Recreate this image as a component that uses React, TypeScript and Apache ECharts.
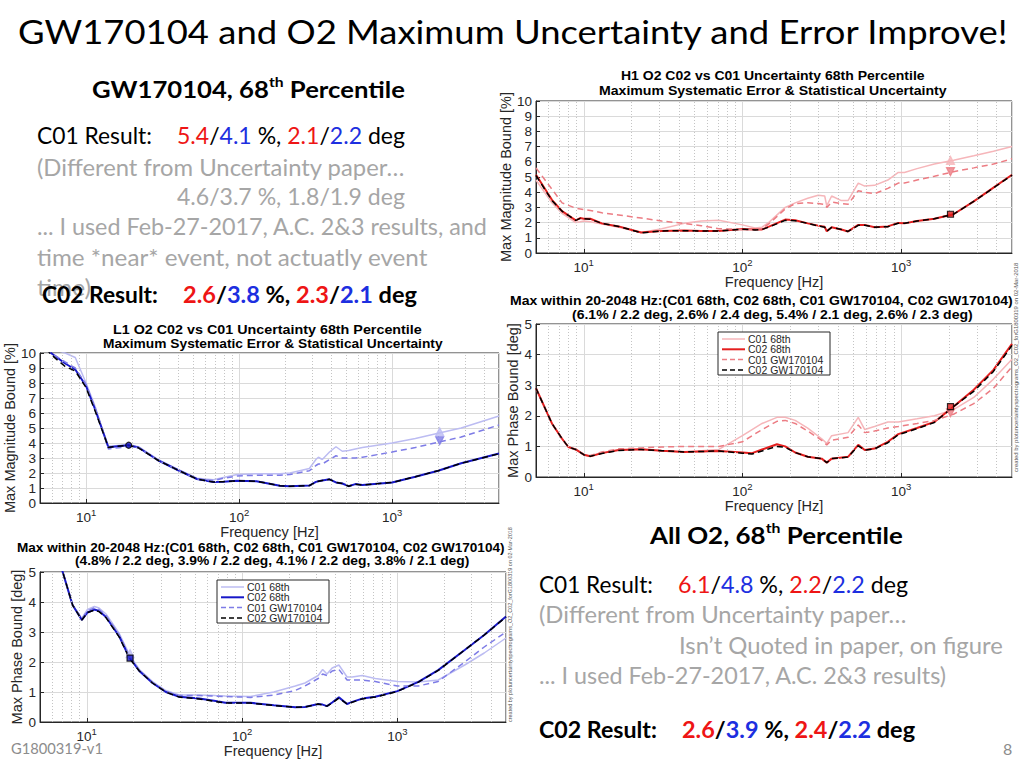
import React, { useEffect, useRef } from "react";
import * as echarts from "echarts";

const AX = "Liberation Sans";
const SL = "Lato";

// ---------------- data ----------------
const CURVE_NAMES = ["C01 68th", "C02 68th", "C01 GW170104", "C02 GW170104"];
const X_TICK_DECADES = [10, 100, 1000];

// H1 magnitude [%]
const h1MagFreq = [5, 6.3, 7.3, 8.9, 9.5, 10, 11, 13, 16.6, 23, 31, 43, 55, 71, 100, 120, 133, 148, 186, 215, 258, 300, 330, 340, 365, 420, 463, 537, 590, 680, 825, 960, 1050, 1260, 1620, 2140, 2870, 3820, 5000];
const h1MagC01_68 = [4.8, 3.3, 2.6, 2.0, 2.05, 2.1, 2.05, 1.9, 1.7, 1.35, 1.6, 1.95, 2.1, 2.15, 1.85, 1.65, 1.7, 2.05, 3.0, 3.3, 3.6, 3.8, 3.75, 3.1, 3.75, 3.45, 3.45, 4.6, 4.4, 4.45, 4.8, 5.3, 5.3, 5.55, 5.85, 6.1, 6.4, 6.7, 7.0];
const h1MagC02_68 = [5.15, 3.5, 2.75, 2.15, 2.3, 2.25, 2.25, 1.95, 1.75, 1.35, 1.45, 1.48, 1.45, 1.45, 1.58, 1.55, 1.55, 1.75, 2.2, 2.15, 1.95, 1.8, 1.72, 1.43, 1.7, 1.55, 1.42, 1.85, 1.85, 1.7, 1.75, 1.98, 1.95, 2.1, 2.25, 2.55, 3.4, 4.3, 5.15];
const h1MagC01_GW = [5.6, 4.2, 3.3, 2.95, 2.9, 2.85, 2.8, 2.65, 2.5, 2.3, 2.1, 1.95, 1.8, 1.6, 1.55, 1.55, 1.6, 1.95, 2.9, 3.25, 3.3, 3.25, 3.2, 3.0, 3.35, 3.25, 3.2, 4.1, 4.0, 3.9, 4.25, 4.6, 4.6, 4.8, 5.05, 5.35, 5.6, 5.85, 6.2];
const h1MagC02_GW = [5.1, 3.45, 2.75, 2.15, 2.28, 2.25, 2.22, 1.95, 1.75, 1.33, 1.45, 1.47, 1.45, 1.45, 1.56, 1.52, 1.55, 1.72, 2.15, 2.12, 1.95, 1.78, 1.7, 1.43, 1.68, 1.55, 1.42, 1.82, 1.83, 1.7, 1.73, 1.96, 1.95, 2.1, 2.25, 2.55, 3.4, 4.28, 5.12];
const h1MagMarkF = [2048, 2048, 2048];
const h1MagMarkV = [6.1, 5.35, 2.55];

// H1 phase [deg]
const h1PhFreq = [5, 6.3, 7.3, 8, 8.9, 10, 11, 13, 16.6, 23, 31, 43, 71, 100, 115, 133, 165, 186, 215, 258, 316, 340, 365, 463, 537, 590, 680, 825, 960, 1260, 1620, 2140, 2870, 3820, 5000];
const h1PhC01_68 = [2.9, 1.75, 1.25, 0.98, 0.9, 0.73, 0.68, 0.78, 0.88, 0.91, 0.86, 0.82, 0.9, 1.35, 1.55, 1.75, 1.95, 1.95, 1.85, 1.6, 1.25, 1.1, 1.35, 1.45, 1.95, 1.55, 1.65, 1.8, 1.8, 1.9, 2.0, 2.2, 2.6, 3.2, 3.85];
const h1PhC02_68 = [2.9, 1.75, 1.25, 0.98, 0.9, 0.73, 0.68, 0.78, 0.88, 0.91, 0.86, 0.82, 0.85, 0.8, 0.78, 0.9, 1.07, 1.0, 0.8, 0.66, 0.6, 0.47, 0.6, 0.66, 1.05, 0.88, 0.93, 1.15, 1.4, 1.6, 1.8, 2.3, 2.85, 3.5, 4.35];
const h1PhC01_GW = [2.9, 1.75, 1.25, 0.98, 0.9, 0.73, 0.7, 0.82, 0.92, 0.95, 0.98, 1.0, 1.0, 1.15, 1.35, 1.55, 1.82, 1.85, 1.75, 1.5, 1.2, 1.05, 1.2, 1.3, 1.7, 1.45, 1.5, 1.6, 1.65, 1.75, 1.85, 2.05, 2.4, 2.9, 3.6];
const h1PhC02_GW = [2.9, 1.75, 1.25, 0.98, 0.9, 0.73, 0.68, 0.77, 0.87, 0.9, 0.86, 0.82, 0.85, 0.78, 0.75, 0.85, 1.0, 0.97, 0.8, 0.66, 0.6, 0.47, 0.6, 0.65, 1.02, 0.88, 0.92, 1.12, 1.38, 1.58, 1.78, 2.3, 2.8, 3.45, 4.3];
const h1PhMarkF = [2048, 2048];
const h1PhMarkV = [2.1, 2.3];

// L1 magnitude [%]
const l1MagFreq = [5, 5.9, 7.3, 8.5, 10, 11.5, 12.7, 14, 15, 18.9, 22, 29.5, 39.7, 53, 68, 79, 97, 130, 185, 215, 288, 318, 330, 350, 390, 430, 473, 520, 575, 640, 1000, 1420, 2000, 2830, 5000];
const l1MagC01_68 = [10.8, 10.3, 10.0, 9.7, 8.0, 6.4, 5.0, 3.8, 3.8, 3.9, 3.75, 2.9, 2.25, 1.65, 1.55, 1.7, 1.9, 1.95, 1.95, 2.0, 2.3, 2.9, 3.05, 2.9, 3.4, 3.75, 3.45, 3.5, 3.6, 3.7, 4.0, 4.3, 4.65, 5.0, 5.8];
const l1MagC02_68 = [10.8, 10.0, 9.3, 8.9, 7.8, 6.2, 4.95, 3.7, 3.75, 3.85, 3.7, 2.85, 2.2, 1.6, 1.4, 1.42, 1.48, 1.45, 1.15, 1.12, 1.16, 1.41, 1.45, 1.5, 1.58, 1.37, 1.3, 1.12, 1.26, 1.2, 1.37, 1.75, 2.15, 2.65, 3.3];
const l1MagC01_GW = [10.8, 10.0, 9.4, 9.0, 7.9, 6.3, 5.0, 3.6, 3.65, 3.75, 3.7, 2.85, 2.2, 1.6, 1.5, 1.65, 1.8, 1.85, 1.85, 1.9, 2.15, 2.5, 2.6, 2.6, 2.9, 3.15, 3.0, 3.0, 3.0, 3.05, 3.4, 3.7, 4.05, 4.4, 5.2];
const l1MagC02_GW = [10.8, 9.9, 9.1, 8.8, 7.7, 6.1, 4.9, 3.7, 3.75, 3.85, 3.68, 2.85, 2.2, 1.6, 1.4, 1.42, 1.48, 1.45, 1.15, 1.12, 1.16, 1.41, 1.45, 1.5, 1.58, 1.37, 1.3, 1.12, 1.26, 1.2, 1.37, 1.75, 2.15, 2.65, 3.28];
const l1MagMarkF = [2048, 2048, 19];
const l1MagMarkV = [4.75, 4.15, 3.85];

// L1 phase [deg]
const l1PhFreq = [5, 7.0, 8.1, 9.3, 10.1, 11.2, 12, 13.3, 16.2, 18.8, 21.8, 26.5, 32.3, 39.4, 53, 67.6, 78, 113, 160, 220, 254, 309, 330, 352, 380, 420, 474, 512, 593, 720, 1000, 1365, 1830, 2710, 3620, 5000];
const l1PhC01_68 = [7.5, 5.0, 3.9, 3.45, 3.75, 3.85, 3.8, 3.6, 2.95, 2.25, 1.75, 1.35, 1.05, 0.9, 0.9, 0.88, 0.87, 0.85, 1.0, 1.2, 1.3, 1.55, 1.75, 1.6, 1.8, 1.9, 1.5, 1.5, 1.55, 1.45, 1.35, 1.33, 1.4, 1.9, 2.3, 2.8];
const l1PhC02_68 = [7.5, 5.0, 3.9, 3.4, 3.65, 3.75, 3.7, 3.5, 2.85, 2.15, 1.7, 1.3, 1.0, 0.84, 0.78, 0.7, 0.64, 0.64, 0.56, 0.49, 0.5, 0.6, 0.58, 0.53, 0.65, 0.82, 0.6, 0.67, 0.78, 0.84, 1.03, 1.34, 1.73, 2.4, 2.9, 3.52];
const l1PhC01_GW = [7.5, 5.0, 3.9, 3.45, 3.7, 3.8, 3.75, 3.55, 2.9, 2.2, 1.72, 1.32, 1.02, 0.88, 0.88, 0.86, 0.85, 0.82, 0.9, 1.05, 1.2, 1.45, 1.6, 1.55, 1.7, 1.75, 1.4, 1.4, 1.4, 1.35, 1.2, 1.2, 1.35, 2.0, 2.5, 3.0];
const l1PhC02_GW = [7.5, 5.0, 3.9, 3.4, 3.65, 3.73, 3.68, 3.48, 2.83, 2.13, 1.7, 1.3, 1.0, 0.83, 0.77, 0.68, 0.63, 0.63, 0.55, 0.49, 0.5, 0.6, 0.57, 0.53, 0.63, 0.8, 0.6, 0.66, 0.77, 0.83, 1.02, 1.33, 1.72, 2.4, 2.9, 3.5];
const l1PhMarkF = [19, 19];
const l1PhMarkV = [2.28, 2.13];

// ---------------- styles / layout ----------------
const H1_COLORS = ["#f6b6ba", "#e41e1e", "#ec7c83", "#000000"];
const L1_COLORS = ["#bcbcf2", "#1717c8", "#7e7ce6", "#000000"];
const MINOR_TICKS = [6, 7, 8, 9, 20, 30, 40, 50, 60, 70, 80, 90, 200, 300, 400, 500, 600, 700, 800, 900, 2000, 3000, 4000];
const RED = "#ee1515";
const BLUE = "#1d2fe0";
const GRAY = "#a6a6a6";
const INK = "#262626";
const TICK_FS = 13.5;
const NAME_FS = 14.5;

type Mk = { sym: string; rot: number; fill: string; stroke: string; size: number };

const panels = [
  { left: 536, top: 101, width: 476, height: 152, ymax: 10, yname: "Max Magnitude Bound [%]", yGap: 21, xGap: 19,
    freq: h1MagFreq, curves: [h1MagC01_68, h1MagC02_68, h1MagC01_GW, h1MagC02_GW], colors: H1_COLORS,
    markF: h1MagMarkF, markV: h1MagMarkV,
    marks: [
      { sym: "triangle", rot: 0, fill: H1_COLORS[0], stroke: H1_COLORS[0], size: 8 },
      { sym: "triangle", rot: 180, fill: H1_COLORS[2], stroke: H1_COLORS[2], size: 8 },
      { sym: "rect", rot: 0, fill: H1_COLORS[1], stroke: "#000", size: 6 },
    ] as Mk[] },
  { left: 536, top: 324, width: 476, height: 153, ymax: 5, yname: "Max Phase Bound [deg]", yGap: 14, xGap: 18,
    freq: h1PhFreq, curves: [h1PhC01_68, h1PhC02_68, h1PhC01_GW, h1PhC02_GW], colors: H1_COLORS,
    markF: h1PhMarkF, markV: h1PhMarkV,
    marks: [
      { sym: "triangle", rot: 180, fill: H1_COLORS[2], stroke: H1_COLORS[2], size: 8 },
      { sym: "rect", rot: 0, fill: H1_COLORS[1], stroke: "#000", size: 6 },
    ] as Mk[] },
  { left: 40, top: 353, width: 459, height: 150, ymax: 10, yname: "Max Magnitude Bound [%]", yGap: 19, xGap: 17,
    freq: l1MagFreq, curves: [l1MagC01_68, l1MagC02_68, l1MagC01_GW, l1MagC02_GW], colors: L1_COLORS,
    markF: l1MagMarkF, markV: l1MagMarkV,
    marks: [
      { sym: "triangle", rot: 0, fill: L1_COLORS[0], stroke: L1_COLORS[0], size: 8 },
      { sym: "triangle", rot: 180, fill: L1_COLORS[2], stroke: L1_COLORS[2], size: 8 },
      { sym: "circle", rot: 0, fill: L1_COLORS[1], stroke: "#000", size: 6 },
    ] as Mk[] },
  { left: 40, top: 572, width: 466, height: 150, ymax: 5, yname: "Max Phase Bound [deg]", yGap: 12, xGap: 18,
    freq: l1PhFreq, curves: [l1PhC01_68, l1PhC02_68, l1PhC01_GW, l1PhC02_GW], colors: L1_COLORS,
    markF: l1PhMarkF, markV: l1PhMarkV,
    marks: [
      { sym: "triangle", rot: 0, fill: L1_COLORS[0], stroke: L1_COLORS[0], size: 8 },
      { sym: "rect", rot: 0, fill: L1_COLORS[1], stroke: "#000", size: 6 },
    ] as Mk[] },
];

// ---------------- text helpers ----------------
let measureCtx: CanvasRenderingContext2D | null = null;
function measure(text: string, size: number, bold: boolean, family: string) {
  if (!measureCtx) measureCtx = document.createElement("canvas").getContext("2d");
  measureCtx!.font = `${bold ? "bold" : "normal"} ${size}px "${family}"`;
  return measureCtx!.measureText(text).width;
}

type Seg = { t: string; c?: string; sup?: boolean };
function segs(...parts: (string | [string, string] | [string, string, boolean])[]): Seg[] {
  return parts.map((p) => (typeof p === "string" ? { t: p } : { t: p[0], c: p[1] || undefined, sup: p[2] }));
}

function textLine(
  x: number, y: number, parts: Seg[],
  o: { size: number; bold?: boolean; family?: string; color?: string; width?: number; z?: number; rotation?: number }
) {
  const family = o.family || SL;
  const bold = !!o.bold;
  const rich: any = {};
  let str = "";
  let w = 0;
  parts.forEach((s, i) => {
    const fs = s.sup ? Math.round(o.size * 0.62) : o.size;
    w += measure(s.t, fs, bold, family);
    rich["r" + i] = {
      fontSize: fs, fontFamily: family, fontWeight: bold ? "bold" : "normal",
      fill: s.c || o.color || "#000",
      lineHeight: s.sup ? Math.round(o.size * 0.75) : Math.round(o.size * 1.25),
      verticalAlign: s.sup ? "top" : "middle",
    };
    str += `{r${i}|${s.t}}`;
  });
  const sx = o.width ? o.width / w : 1;
  return {
    type: "text", x, y, scaleX: sx, rotation: o.rotation || 0, silent: true, z: o.z ?? 50,
    style: { text: str, rich, align: "left", verticalAlign: "middle", fontSize: o.size, fontFamily: family },
  };
}

function legendBox(x: number, y: number, colors: string[]) {
  const els: any[] = [
    { type: "rect", z: 100, silent: true, shape: { x, y, width: 112, height: 43 }, style: { fill: "#fff", stroke: INK, lineWidth: 1 } },
  ];
  CURVE_NAMES.forEach((n, k) => {
    const yy = y + 7 + k * 10.3;
    els.push({ type: "line", z: 101, silent: true, shape: { x1: x + 4, y1: yy, x2: x + 27, y2: yy },
      style: { stroke: colors[k], lineWidth: k === 1 ? 2 : 1.5, lineDash: k >= 2 ? [5, 3] : null } });
    els.push({ type: "text", z: 101, silent: true, x: x + 30, y: yy,
      style: { text: n, fontSize: 10.5, fontFamily: AX, fill: INK, align: "left", verticalAlign: "middle" } });
  });
  return els;
}

function decadeLabel(v: number) {
  const l = Math.log10(v);
  const e = Math.round(l);
  if (Math.abs(l - e) > 1e-6 || X_TICK_DECADES.indexOf(Math.round(Math.pow(10, e))) < 0) return "";
  return `{b|10}{s|${e}}`;
}

function buildOption() {
  const grid = panels.map((p) => ({
    left: p.left, top: p.top, width: p.width, height: p.height, containLabel: false,
    show: true, borderColor: INK, borderWidth: 1, backgroundColor: "#fff",
  }));
  const xAxis = panels.map((p, i) => ({
    type: "log", logBase: 10, min: 5, max: 5000, gridIndex: i,
    name: "Frequency [Hz]", nameLocation: "middle", nameGap: p.xGap,
    nameTextStyle: { fontFamily: AX, fontSize: NAME_FS, color: INK },
    axisLine: { show: true, lineStyle: { color: INK, width: 1 } },
    axisTick: { show: true, inside: true, length: 4, lineStyle: { color: INK } },
    axisLabel: {
      margin: 4, showMinLabel: false, showMaxLabel: false, formatter: decadeLabel,
      rich: {
        b: { fontSize: TICK_FS, fontFamily: AX, color: INK, lineHeight: 17, verticalAlign: "bottom" },
        s: { fontSize: 9.5, fontFamily: AX, color: INK, lineHeight: 9, verticalAlign: "top" },
      },
    },
    splitLine: { show: true, lineStyle: { color: "#dadada", width: 1 } },
  }));
  const yAxis = panels.map((p, i) => ({
    type: "value", gridIndex: i, min: 0, max: p.ymax, interval: 1,
    name: p.yname, nameLocation: "middle", nameRotate: 90, nameGap: p.yGap,
    nameTextStyle: { fontFamily: AX, fontSize: NAME_FS, color: INK },
    axisLine: { show: true, lineStyle: { color: INK, width: 1 } },
    axisTick: { show: true, inside: true, length: 4, lineStyle: { color: INK } },
    axisLabel: { fontFamily: AX, fontSize: TICK_FS, color: INK, margin: 4 },
    splitLine: { show: true, lineStyle: { color: "#dadada", width: 1 } },
  }));
  const series: any[] = [];
  panels.forEach((p, i) => {
    series.push({
      type: "line", name: "minor-grid", xAxisIndex: i, yAxisIndex: i, data: [], silent: true, z: 1,
      markLine: {
        silent: true, symbol: ["none", "none"], label: { show: false }, animation: false,
        lineStyle: { type: [1, 2], color: "#c4c4c4", width: 1 },
        emphasis: { disabled: true },
        data: MINOR_TICKS.map((v) => ({ xAxis: v })),
      },
    });
    p.curves.forEach((vals, k) => {
      series.push({
        type: "line", name: CURVE_NAMES[k], xAxisIndex: i, yAxisIndex: i,
        data: p.freq.map((f, j) => [f, vals[j]]),
        showSymbol: false, symbol: "none", clip: true, silent: true, z: 3 + k,
        lineStyle: { color: p.colors[k], width: k === 1 ? 2 : 1.5, type: k >= 2 ? [6, 4] : "solid" },
      });
    });
    p.markF.forEach((f, m) => {
      const mk = p.marks[m];
      series.push({
        type: "scatter", name: "max", xAxisIndex: i, yAxisIndex: i, data: [[f, p.markV[m]]],
        symbol: mk.sym, symbolSize: mk.size, symbolRotate: mk.rot, silent: true, z: 10,
        itemStyle: { color: mk.fill, borderColor: mk.stroke, borderWidth: 1.2 },
      });
    });
  });

  const g: any[] = [];
  // slide title
  g.push(textLine(18, 31, segs("GW170104 and O2 Maximum Uncertainty and Error Improve!"), { size: 32, width: 992 }));
  // left block
  g.push(textLine(92, 89, segs("GW170104, 68", ["th", "", true], " Percentile"), { size: 23, bold: true, width: 313 }));
  g.push(textLine(37, 135, segs("C01 Result:"), { size: 23, width: 115 }));
  g.push(textLine(177, 135, segs(["5.4", RED], "/", ["4.1", BLUE], " %, ", ["2.1", RED], "/", ["2.2", BLUE], " deg"), { size: 23, width: 228 }));
  g.push(textLine(37, 167, segs("(Different from Uncertainty paper…"), { size: 23, color: GRAY, width: 368 }));
  g.push(textLine(177, 196, segs("4.6/3.7 %, 1.8/1.9 deg"), { size: 23, color: GRAY, width: 228 }));
  g.push(textLine(37, 226, segs("... I used Feb-27-2017, A.C. 2&3 results, and"), { size: 23, color: GRAY, width: 451 }));
  g.push(textLine(37, 257, segs("time *near* event, not actuatly event"), { size: 23, color: GRAY, width: 391 }));
  g.push(textLine(37, 287, segs("time)"), { size: 23, color: GRAY, width: 54 }));
  g.push(textLine(42, 294, segs("C02 Result:"), { size: 23, bold: true, width: 116, z: 60 }));
  g.push(textLine(183, 294, segs(["2.6", RED], "/", ["3.8", BLUE], " %, ", ["2.3", RED], "/", ["2.1", BLUE], " deg"), { size: 23, bold: true, width: 234, z: 60 }));
  // right block
  g.push(textLine(650, 535, segs("All O2, 68", ["th", "", true], " Percentile"), { size: 23, bold: true, width: 253 }));
  g.push(textLine(539, 584, segs("C01 Result:"), { size: 23, width: 114 }));
  g.push(textLine(678, 584, segs(["6.1", RED], "/", ["4.8", BLUE], " %, ", ["2.2", RED], "/", ["2.2", BLUE], " deg"), { size: 23, width: 230 }));
  g.push(textLine(539, 614, segs("(Different from Uncertainty paper…"), { size: 23, color: GRAY, width: 368 }));
  g.push(textLine(679, 645, segs("Isn’t Quoted in paper, on figure"), { size: 23, color: GRAY, width: 324 }));
  g.push(textLine(539, 675, segs("... I used Feb-27-2017, A.C. 2&3 results)"), { size: 23, color: GRAY, width: 408 }));
  g.push(textLine(539, 729, segs("C02 Result:"), { size: 23, bold: true, width: 118 }));
  g.push(textLine(682, 729, segs(["2.6", RED], "/", ["3.9", BLUE], " %, ", ["2.4", RED], "/", ["2.2", BLUE], " deg"), { size: 23, bold: true, width: 233 }));
  // footer
  g.push(textLine(11, 748, segs("G1800319-v1"), { size: 16, color: "#8c8c8c", width: 92 }));
  g.push(textLine(1003, 748, segs("8"), { size: 16, color: "#8c8c8c" }));
  // panel titles
  const pt = (x: number, y: number, t: string, w: number) => textLine(x, y, segs(t), { size: 12.5, bold: true, family: AX, width: w });
  g.push(pt(621, 76, "H1 O2 C02 vs C01 Uncertainty 68th Percentile", 304));
  g.push(pt(599, 90.5, "Maximum Systematic Error & Statistical Uncertainty", 348));
  g.push(pt(510, 300.5, "Max within 20-2048 Hz:(C01 68th, C02 68th, C01 GW170104, C02 GW170104)", 503));
  g.push(pt(572, 315, "(6.1% / 2.2 deg, 2.6% / 2.4 deg, 5.4% / 2.1 deg, 2.6% / 2.3 deg)", 401));
  g.push(pt(113, 330, "L1 O2 C02 vs C01 Uncertainty 68th Percentile", 309));
  g.push(pt(103, 344, "Maximum Systematic Error & Statistical Uncertainty", 340));
  g.push(pt(17, 548, "Max within 20-2048 Hz:(C01 68th, C02 68th, C01 GW170104, C02 GW170104)", 488));
  g.push(pt(75, 561, "(4.8% / 2.2 deg, 3.9% / 2.2 deg, 4.1% / 2.2 deg, 3.8% / 2.1 deg)", 395));
  // tiny vertical credits
  const credit = "created by plotuncertaintyspectrograms_O2_C02_forG1800319 on 02-Mar-2018";
  g.push(textLine(1016, 472, segs(credit), { size: 5.5, family: AX, color: "#555", width: 210, rotation: Math.PI / 2 }));
  g.push(textLine(510, 722, segs(credit), { size: 5.5, family: AX, color: "#555", width: 195, rotation: Math.PI / 2 }));
  // legends
  g.push(...legendBox(718, 332, H1_COLORS));
  g.push(...legendBox(217, 580, L1_COLORS));

  return {
    animation: false,
    backgroundColor: "#ffffff",
    textStyle: { fontFamily: AX },
    grid, xAxis, yAxis, series,
    graphic: { elements: g },
  };
}

export default function App() {
  const ref = useRef<HTMLDivElement>(null);
  useEffect(() => {
    if (!ref.current) return;
    const chart = echarts.init(ref.current, null, { renderer: "svg" });
    chart.setOption(buildOption() as any);
    return () => chart.dispose();
  }, []);
  return (
    <div
      ref={ref}
      style={{ position: "absolute", left: 0, top: 0, width: 1024, height: 768, background: "#fff" }}
    />
  );
}
